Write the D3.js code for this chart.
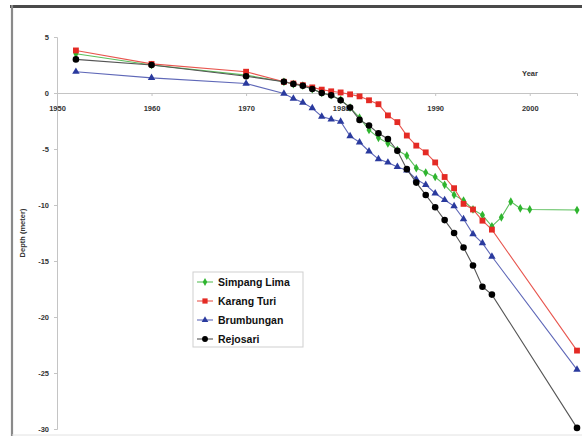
<!DOCTYPE html>
<html>
<head>
<meta charset="utf-8">
<script src="https://cdn.jsdelivr.net/npm/d3@7"></script>
<style>
  body { margin: 0; background: #fff; }
  text { font-family: Arial, "Liberation Sans", sans-serif; }
</style>
</head>
<body>
<div id="chart"></div>
<script>
// data
var annualYears = [1974, 1975, 1976, 1977, 1978, 1979, 1980, 1981, 1982, 1983, 1984, 1985,
                   1986, 1987, 1988, 1989, 1990, 1991, 1992, 1993, 1994, 1995, 1996];
var baseYears = [1952, 1960, 1970].concat(annualYears).concat([2005]);
var simpangLimaYears = [1952, 1960, 1970].concat(annualYears).concat([1997, 1998, 1999, 2000, 2005]);

var simpangLima = [3.5, 2.5, 1.6, 1.0, 0.8, 0.65, 0.35, 0.0, -0.2, -0.6, -1.3, -2.2, -3.3, -4.0, -4.5,
                   -5.1, -5.6, -6.7, -7.1, -7.5, -8.2, -9.1, -9.6, -10.4, -10.9, -11.9,
                   -11.1, -9.7, -10.3, -10.4, -10.45];
var karangTuri = [3.8, 2.6, 1.9, 1.0, 0.85, 0.7, 0.5, 0.3, 0.15, 0.05, -0.12, -0.3, -0.65, -1.0, -2.0,
                  -2.6, -3.8, -4.7, -5.3, -6.2, -7.5, -8.5, -9.9, -10.4, -11.4, -12.2, -23.0];
var brumbungan = [1.9, 1.35, 0.85, -0.05, -0.5, -0.85, -1.35, -2.1, -2.35, -2.55, -3.85, -4.4, -5.2, -5.9, -6.2,
                  -6.6, -6.9, -7.7, -8.2, -8.95, -9.55, -10.1, -11.25, -12.6, -13.4, -14.6, -24.7];
var rejosari = [3.0, 2.5, 1.5, 1.0, 0.8, 0.65, 0.35, 0.0, -0.2, -0.65, -1.3, -2.4, -2.9, -3.6, -4.1,
                -5.15, -6.8, -8.0, -9.1, -10.2, -11.35, -12.5, -13.8, -15.4, -17.3, -18.0, -29.9];

var xTicks = [1950, 1960, 1970, 1980, 1990, 2000];
var yTicks = [5, 0, -5, -10, -15, -20, -25, -30];

var seriesNames = ["Simpang Lima", "Karang Turi", "Brumbungan", "Rejosari"];

let width = 582;
let height = 436;

var series = [
    {name: seriesNames[0], years: simpangLimaYears, values: simpangLima, line: "#5cbf5c", fill: "#2fb52f", symbol: d3.symbolDiamond, size: 22},
    {name: seriesNames[1], years: baseYears, values: karangTuri, line: "#e8564f", fill: "#e42a24", symbol: d3.symbolSquare, size: 34},
    {name: seriesNames[2], years: baseYears, values: brumbungan, line: "#5f68b8", fill: "#2a3a9e", symbol: d3.symbolTriangle, size: 24},
    {name: seriesNames[3], years: baseYears, values: rejosari, line: "#555555", fill: "#000000", symbol: d3.symbolCircle, size: 34}
];

var svg = d3.select("#chart").append("svg")
    .attr("width", width)
    .attr("height", height);

svg.append("rect").attr("width", width).attr("height", height).attr("fill", "#fff");

// frame: dark top, grey left, faint bottom
svg.append("line").attr("x1", 10).attr("x2", width).attr("y1", 6.5).attr("y2", 6.5)
    .attr("stroke", "#4a4a4a").attr("stroke-width", 3);
svg.append("line").attr("x1", 12).attr("x2", 12).attr("y1", 5).attr("y2", height)
    .attr("stroke", "#8a8a8a").attr("stroke-width", 2.2);
svg.append("line").attr("x1", 12).attr("x2", width).attr("y1", 435).attr("y2", 435)
    .attr("stroke", "#e2e2e2").attr("stroke-width", 1);

var xScale = d3.scaleLinear().domain([1950, 2005]).range([57, 577]);
var yScale = d3.scaleLinear().domain([5, -30]).range([37, 429]);

// y axis
var yAxis = d3.axisLeft(yScale).tickValues(yTicks).tickSize(3).tickPadding(5)
    .tickFormat(function(d) { return d; });
var gy = svg.append("g").attr("transform", "translate(" + xScale(1950) + ",0)").call(yAxis);
gy.select(".domain").attr("stroke", "#c4c4c4");
gy.selectAll(".tick line").attr("stroke", "#c4c4c4");
gy.selectAll("text").attr("fill", "#333").style("font-size", "7.5px").style("font-weight", "bold");

// x axis at zero
var xAxis = d3.axisBottom(xScale).tickValues(xTicks).tickSize(3).tickPadding(10)
    .tickFormat(d3.format("d"));
var gx = svg.append("g").attr("transform", "translate(0," + yScale(0) + ")").call(xAxis);
gx.select(".domain").attr("stroke", "#c4c4c4");
gx.selectAll(".tick line").attr("stroke", "#c4c4c4");
gx.selectAll("text").attr("fill", "#333").style("font-size", "7.5px").style("font-weight", "bold");

svg.append("text")
    .attr("x", 530).attr("y", 76)
    .attr("text-anchor", "middle")
    .style("font-size", "7.5px").style("font-weight", "bold").attr("fill", "#333")
    .text("Year");

svg.append("text")
    .attr("transform", "translate(25," + (yScale(-12.5)) + ") rotate(-90)")
    .attr("text-anchor", "middle")
    .style("font-size", "7.5px").style("font-weight", "bold").attr("fill", "#333")
    .text("Depth (meter)");

var line = d3.line()
    .x(function(d) { return xScale(d[0]); })
    .y(function(d) { return yScale(d[1]); });

series.forEach(function(s) {
    var pts = s.years.map(function(y, i) { return [y, s.values[i]]; });
    var g = svg.append("g");
    g.append("path")
        .datum(pts)
        .attr("fill", "none")
        .attr("stroke", s.line)
        .attr("stroke-width", 1.1)
        .attr("d", line);
    g.selectAll("path.pt")
        .data(pts)
        .enter().append("path")
        .attr("class", "pt")
        .attr("transform", function(d) { return "translate(" + xScale(d[0]) + "," + yScale(d[1]) + ")"; })
        .attr("d", d3.symbol().type(s.symbol).size(s.size))
        .attr("fill", s.fill);
});

// legend
var legend = svg.append("g");
legend.append("rect")
    .attr("x", 193).attr("y", 272)
    .attr("width", 110).attr("height", 75)
    .attr("fill", "#fff")
    .attr("stroke", "#cfcfcf");

var items = legend.selectAll("g.item")
    .data(series)
    .enter().append("g")
    .attr("class", "item")
    .attr("transform", function(d, i) { return "translate(0," + (282 + i * 19) + ")"; });

items.append("line")
    .attr("x1", 197).attr("x2", 213)
    .attr("stroke", function(d) { return d.line; })
    .attr("stroke-width", 1.1);
items.append("path")
    .attr("transform", "translate(205,0)")
    .attr("d", function(d) { return d3.symbol().type(d.symbol).size(d.size * 0.8)(); })
    .attr("fill", function(d) { return d.fill; });
items.append("text")
    .attr("x", 218).attr("y", 0)
    .attr("dy", "0.35em")
    .style("font-size", "10.5px").style("font-weight", "bold")
    .attr("fill", "#111")
    .text(function(d) { return d.name; });
</script>
</body>
</html>
